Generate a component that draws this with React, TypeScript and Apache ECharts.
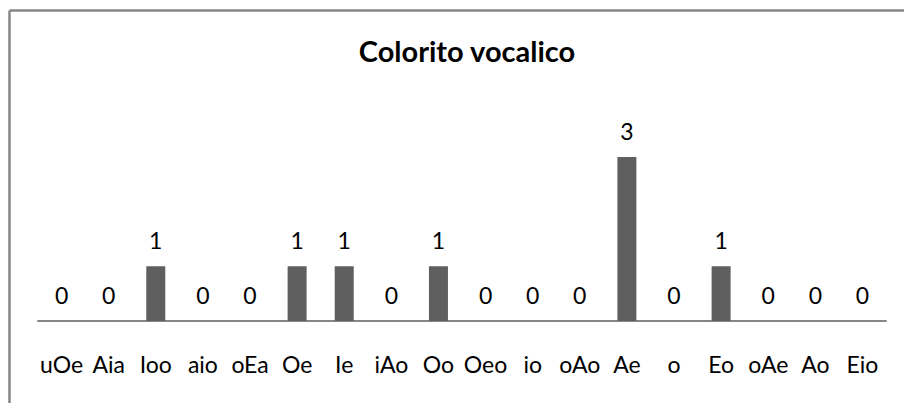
import React, { useEffect, useRef } from "react";
import * as echarts from "echarts";

const categories = ["uOe", "Aia", "Ioo", "aio", "oEa", "Oe", "Ie", "iAo", "Oo", "Oeo", "io", "oAo", "Ae", "o", "Eo", "oAe", "Ao", "Eio"];
const values = [0, 0, 1, 0, 0, 1, 1, 0, 1, 0, 0, 0, 3, 0, 1, 0, 0, 0];
const chartTitle = "Colorito vocalico";

const FONT = "Lato, 'Open Sans', sans-serif";

export default function App() {
  const ref = useRef<HTMLDivElement>(null);
  useEffect(() => {
    if (!ref.current) return;
    const chart = echarts.init(ref.current, null, { renderer: "svg" });
    chart.setOption({
      animation: false,
      backgroundColor: "#ffffff",
      title: {
        text: chartTitle,
        left: 462,
        textAlign: "center",
        top: 31,
        textStyle: { fontFamily: FONT, fontWeight: "bold", fontSize: 29, color: "#000" },
      },
      graphic: [
        {
          type: "line",
          shape: { x1: 9.5, y1: 10.5, x2: 904, y2: 10.5 },
          style: { stroke: "#868686", lineWidth: 2.5 },
          z: 100,
        },
        {
          type: "line",
          shape: { x1: 9.5, y1: 10.5, x2: 9.5, y2: 403 },
          style: { stroke: "#868686", lineWidth: 2.5 },
          z: 100,
        },
      ],
      grid: { left: 38, right: 18, top: 157, bottom: 82, containLabel: false },
      xAxis: {
        type: "category",
        data: categories,
        axisLine: { show: true, lineStyle: { color: "#868686", width: 2 } },
        axisTick: { show: false },
        axisLabel: { interval: 0, margin: 31, fontFamily: FONT, fontSize: 23, color: "#000" },
      },
      yAxis: {
        type: "value",
        min: 0,
        max: 3,
        show: false,
        splitLine: { show: false },
      },
      series: [
        {
          type: "bar",
          data: values,
          barWidth: 19,
          itemStyle: { color: "#5f5f5f" },
          label: {
            show: true,
            position: "top",
            distance: 15,
            fontFamily: FONT,
            fontSize: 23,
            color: "#000",
          },
        },
      ],
    });
    return () => chart.dispose();
  }, []);
  return (
    <div
      ref={ref}
      style={{ position: "absolute", left: 0, top: 0, width: 904, height: 403 }}
    />
  );
}
